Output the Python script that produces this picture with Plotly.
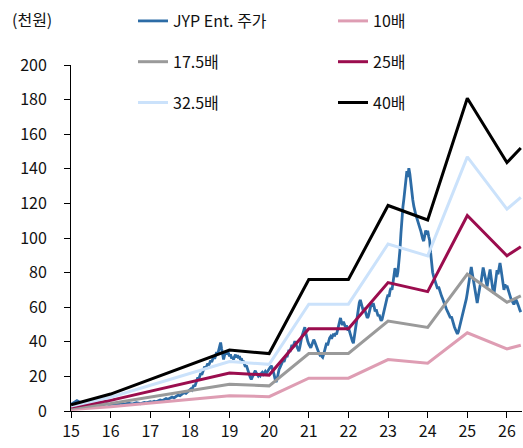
import plotly.graph_objects as go

# ---- JYP Ent. share price (thousand won) ----
# each list covers one calendar year, sampled at a regular step
price_step = {15: 0.05, 16: 0.05, 17: 0.05, 18: 0.025, 19: 0.025, 20: 0.025,
              21: 0.025, 22: 0.025, 23: 0.025, 24: 0.025, 25: 0.025, 26: 0.025}
p15 = [3.8, 4.5, 5.2, 6.0, 5.4, 4.8, 5.1, 4.6, 4.2, 4.5, 4.0, 3.7, 4.1, 3.8, 4.3, 4.0, 3.6, 3.9, 4.2, 3.8]
p16 = [3.9, 4.3, 4.0, 3.7, 4.1, 4.5, 4.2, 3.9, 4.3, 4.6, 4.2, 4.0, 4.4, 4.8, 4.5, 4.2, 4.6, 5.0, 4.7, 5.1]
p17 = [5.4, 5.0, 5.6, 5.3, 5.9, 6.4, 6.0, 6.6, 7.2, 6.8, 7.5, 8.1, 7.6, 8.4, 9.2, 8.8, 9.8, 10.6, 10.2, 11.3]
p18 = [12.0, 12.8, 12.2, 13.6, 15.0, 14.2, 16.3, 17.8, 19.4, 18.5, 20.8, 21.9, 20.9, 22.6, 24.4, 25.8,
       24.6, 26.3, 27.5, 26.4, 27.8, 29.2, 28.3, 30.1, 31.5, 30.2, 32.8, 34.0, 32.6, 35.2, 37.4, 39.6,
       36.0, 31.4, 29.8, 32.2, 34.2, 32.6, 35.0, 33.2]
p19 = [31.6, 32.8, 30.4, 31.2, 29.8, 31.4, 32.6, 31.0, 32.2, 30.5, 31.7, 29.6, 30.4, 28.2, 29.0, 27.1,
       25.6, 26.4, 24.2, 22.5, 21.0, 19.4, 18.2, 19.6, 21.2, 22.4, 23.3, 22.0, 21.4, 20.2, 21.0, 20.4,
       21.6, 22.3, 21.2, 22.0, 22.8, 21.6, 22.6, 23.4]
p20 = [24.2, 25.0, 26.2, 25.0, 23.4, 21.0, 18.4, 16.8, 18.5, 21.6, 24.0, 25.2, 26.8, 27.9, 29.2, 28.4,
       30.6, 32.0, 31.2, 33.6, 35.4, 34.2, 36.8, 38.2, 36.9, 39.0, 40.4, 38.6, 37.2, 35.8, 34.6, 37.0,
       40.8, 43.0, 44.8, 47.2, 48.4, 45.0, 42.0, 40.2]
p21 = [38.6, 37.4, 36.6, 38.2, 39.6, 41.2, 40.0, 38.2, 36.4, 35.0, 33.8, 32.6, 33.4, 31.6, 31.0, 32.8,
       35.2, 37.6, 39.4, 38.0, 40.6, 42.2, 43.0, 41.8, 43.4, 44.6, 43.2, 45.0, 44.2, 46.8, 49.6, 52.4,
       53.8, 51.2, 49.8, 51.6, 50.4, 48.6, 49.4, 47.6]
p22 = [48.2, 46.0, 44.4, 42.2, 40.4, 39.2, 43.6, 47.8, 52.0, 55.8, 59.4, 62.6, 64.2, 61.4, 59.2, 57.8,
       59.6, 57.0, 55.4, 53.8, 54.6, 57.2, 59.6, 61.8, 60.4, 62.4, 60.2, 57.6, 58.8, 56.2, 54.8, 55.6,
       53.4, 52.2, 53.0, 55.8, 58.6, 61.4, 63.0, 65.4]
p23 = [67.2, 66.0, 69.4, 71.2, 70.0, 74.6, 79.2, 82.6, 80.2, 77.4, 80.6, 86.4, 93.0, 102.6, 112.4, 118.0,
       122.6, 128.4, 133.0, 138.6, 135.2, 140.4, 137.0, 131.2, 126.4, 122.0, 118.4, 115.2, 113.4, 111.6,
       109.2, 107.4, 106.0, 104.2, 101.4, 99.6, 98.2, 101.2, 104.4, 102.0]
p24 = [104.2, 101.0, 98.6, 91.4, 84.6, 80.2, 77.8, 75.8, 73.6, 72.0, 70.6, 71.8, 69.4, 68.2, 66.4, 65.0,
       63.2, 62.0, 60.4, 58.8, 57.6, 56.2, 55.0, 53.8, 54.6, 52.0, 50.4, 48.6, 47.2, 45.8, 44.6, 45.8,
       48.2, 50.4, 51.2, 53.6, 56.0, 58.4, 61.0, 64.8]
p25 = [68.2, 71.6, 75.4, 79.8, 83.2, 79.6, 76.0, 72.4, 68.0, 64.2, 62.4, 66.0, 70.4, 72.8, 75.0, 79.4,
       83.0, 80.2, 76.6, 73.4, 72.0, 75.6, 79.2, 81.8, 77.4, 73.0, 69.2, 68.0, 72.6, 77.8, 81.4, 79.0,
       83.4, 85.6, 82.0, 77.2, 72.8, 70.0, 73.2, 71.4]
p26 = [72.4, 70.2, 68.4, 66.6, 65.0, 63.8, 62.2, 61.6, 63.0, 64.4, 63.2, 61.0, 60.2, 58.4, 57.2]
price_by_year = {15: p15, 16: p16, 17: p17, 18: p18, 19: p19, 20: p20,
                 21: p21, 22: p22, 23: p23, 24: p24, 25: p25, 26: p26}

# ---- PER band: EPS (thousand won) at each band node ----
band_years = [15, 16, 19, 20, 21, 22, 23, 24, 25, 26, 26.35]
band_eps = [0.09, 0.245, 0.88, 0.83, 1.9, 1.9, 2.97, 2.76, 4.52, 3.59, 3.8]
band_multiples = [10, 17.5, 25, 32.5, 40]
band_names = ["10배", "17.5배", "25배", "32.5배", "40배"]
band_colors = ["#DE9DB3", "#9A9A9A", "#9B0D4E", "#CBE2FB", "#000000"]
band_legend = ["legend2", "legend", "legend2", "legend", "legend2"]

x_ticks = list(range(15, 27))
y_ticks = list(range(0, 201, 20))

FONT = "Noto Sans CJK KR"

price_x, price_y = [], []
for yr, vals in price_by_year.items():
    for i, v in enumerate(vals):
        price_x.append(yr + i * price_step[yr])
        price_y.append(v)

fig = go.Figure()
fig.add_trace(go.Scatter(x=price_x, y=price_y, mode="lines", name="JYP Ent. 주가",
                         line=dict(color="#2D6CA6", width=2.8), legend="legend",
                         legendgroup="p"))
for m, n, c, lg in zip(band_multiples, band_names, band_colors, band_legend):
    fig.add_trace(go.Scatter(x=band_years, y=[e * m for e in band_eps], mode="lines", name=n,
                             line=dict(color=c, width=3), legend=lg, legendgroup=n))

leg_common = dict(font=dict(family=FONT, size=16, color="#111"), bgcolor="rgba(0,0,0,0)",
                  xref="container", yref="container", xanchor="left", yanchor="top",
                  tracegroupgap=17, orientation="v")

fig.update_layout(
    width=523, height=448,
    margin=dict(l=71, r=1, t=65, b=37, autoexpand=False),
    paper_bgcolor="white", plot_bgcolor="white",
    font=dict(family=FONT, size=16, color="#111"),
    legend=dict(x=133 / 523, y=1 - 4 / 448, **leg_common),
    legend2=dict(x=333 / 523, y=1 - 4 / 448, **leg_common),
    xaxis=dict(range=[15, 26.38], tickvals=x_ticks, ticktext=[str(t) for t in x_ticks],
               showline=True, linecolor="black", linewidth=1, ticks="outside",
               ticklen=6, tickcolor="black", showgrid=False, zeroline=False,
               tickfont=dict(family=FONT, size=16)),
    yaxis=dict(range=[0, 200], tickvals=y_ticks, showline=True, linecolor="black",
               linewidth=1, ticks="outside", ticklen=6, tickcolor="black",
               showgrid=False, zeroline=False, ticklabelstandoff=14,
               tickfont=dict(family=FONT, size=16)),
    annotations=[dict(text="(천원)", xref="paper", yref="paper", x=-61 / 451, y=1 + 46 / 346,
                      xanchor="left", yanchor="middle", showarrow=False,
                      font=dict(family=FONT, size=16, color="#111"))],
)

fig.write_html("out.html")
